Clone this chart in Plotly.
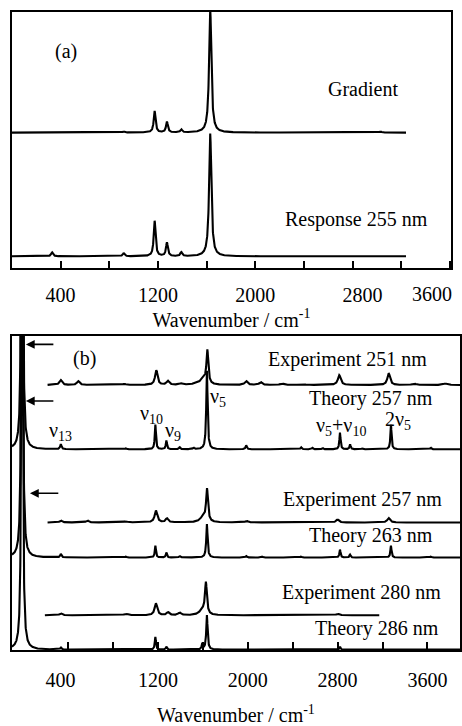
import numpy as np
import plotly.graph_objects as go

# ---------------- data ----------------
# Panel (a): simulated spectra, peak tables (centre cm-1, height, HWHM cm-1)
a_range = [0, 3240]
grad_base = 138
grad_c = [330, 919, 1173, 1274, 1392, 1630, 3030]
grad_h = [0.5, 1, 22, 11, 3, 126, 1]
grad_w = [10, 10, 9, 9, 9, 11, 12]

resp_base = 12
resp_c = [330, 919, 1173, 1274, 1392, 1630]
resp_h = [4, 3, 36, 14, 4, 125]
resp_w = [10, 10, 9, 9, 9, 11]

# Panel (b)
exp251_range = [217, 3890]
exp251_base = 270
exp251_c = [335, 490, 900, 1185, 1288, 1405, 1530, 1600, 1640, 1985, 2115, 2305, 2490, 2815, 3255, 3480, 3760]
exp251_h = [5, 4, 1, 15, 4, 1.5, 1, 6, 34, 4, 3, 1.5, 1, 10, 12, 1.5, 1.5]
exp251_w = [14, 14, 20, 13, 14, 20, 20, 30, 10, 15, 15, 20, 20, 15, 14, 20, 20]

th257_range = [-100, 3890]
th257_base = 204.5
th257_c = [-10, 335, 915, 1177, 1275, 1393, 1517, 1636, 1986, 2475, 2575, 2665, 2821, 2911, 3020, 3275, 3630]
th257_h = [800, 5, 1, 25, 9, 2, 1.5, 80, 4, 2, 1.5, 1.5, 17, 5, 1, 25, 1.5]
th257_w = [5.5, 7, 7, 6, 6, 7, 7, 7, 7, 7, 7, 7, 6, 6, 7, 6, 7]

exp257_range = [217, 3890]
exp257_base = 130
exp257_c = [335, 572, 915, 1182, 1280, 1395, 1600, 1637, 1990, 2800, 3255]
exp257_h = [2, 2, 1, 12, 4, 1, 5, 33, 1.5, 3, 4.5]
exp257_w = [14, 14, 20, 14, 14, 20, 30, 10, 15, 15, 15]

th263_range = [-100, 3890]
th263_base = 94.3
th263_c = [-10, 335, 915, 1177, 1275, 1393, 1636, 1986, 2130, 2475, 2821, 2911, 3275, 3630]
th263_h = [800, 3.5, 1, 12, 5, 1.5, 34, 1.5, 1, 1, 8, 3, 12, 1]
th263_w = [5.5, 7, 7, 6, 6, 7, 7, 7, 7, 7, 6, 6, 6, 7]

exp280_range = [193, 3171]
exp280_base = 35.5
exp280_c = [335, 915, 1182, 1290, 1393, 1595, 1627, 2800]
exp280_h = [2, 1.5, 12, 3, 2.5, 5, 32, 1.5]
exp280_w = [14, 20, 14, 14, 15, 30, 10, 15]

th286_range = [-100, 3890]
th286_base = 0.5
th286_c = [-10, 335, 1177, 1275, 1595, 1636, 2821]
th286_h = [800, 2, 13, 3, 6, 35, 3]
th286_w = [5.5, 7, 6, 6, 6, 7, 6]

tick_labels = ["400", "1200", "2000", "2800", "3600"]
tick_label_vals = [400, 1200, 2000, 2800, 3600]
minor_tick_vals = [800, 1600, 2400, 3200]


def spectrum(xr, base, cs, hs, ws):
    x = np.arange(xr[0], xr[1] + 1, 1.0)
    y = np.full_like(x, base, dtype=float)
    for c, h, w in zip(cs, hs, ws):
        y += h * w * w / ((x - c) ** 2 + w * w)
    return x, y


FONT = "Liberation Serif, Times New Roman, serif"
W, H = 462, 726
line = dict(color="black", width=2.1)

fig = go.Figure()

# panel (a)
for args in [(a_range, grad_base, grad_c, grad_h, grad_w),
             (a_range, resp_base, resp_c, resp_h, resp_w)]:
    x, y = spectrum(*args)
    fig.add_trace(go.Scatter(x=x, y=y, mode="lines", line=line, xaxis="x", yaxis="y",
                             showlegend=False, hoverinfo="skip"))

# panel (b)
for args in [(exp251_range, exp251_base, exp251_c, exp251_h, exp251_w),
             (th257_range, th257_base, th257_c, th257_h, th257_w),
             (exp257_range, exp257_base, exp257_c, exp257_h, exp257_w),
             (th263_range, th263_base, th263_c, th263_h, th263_w),
             (exp280_range, exp280_base, exp280_c, exp280_h, exp280_w),
             (th286_range, th286_base, th286_c, th286_h, th286_w)]:
    x, y = spectrum(*args)
    fig.add_trace(go.Scatter(x=x, y=y, mode="lines", line=line, xaxis="x2", yaxis="y2",
                             showlegend=False, hoverinfo="skip"))

xa_dom = [12 / W, 452 / W]
ya_dom = [1 - 273 / H, 1 - 12 / H]
xb_dom = [12 / W, 461 / W]
yb_dom = [1 - 662 / H, 1 - 342 / H]

# the last label of panel (a) sits on the frame edge; it is drawn as an annotation
# below so that it is not cut by the page border
ticktext_a = ["400", "1200", "2000", "&nbsp;&nbsp;&nbsp;&nbsp;2800", ""]
ticktext_b = ["400&nbsp;&nbsp;&nbsp;", "1200", "2000", "2800", "3600"]

common_x = dict(showline=True, mirror=True, linecolor="black", linewidth=2,
                showgrid=False, zeroline=False, ticks="inside", ticklen=7,
                tickwidth=2, tickcolor="black",
                tickfont=dict(family=FONT, size=20, color="black"),
                tickmode="array", tickvals=tick_label_vals,
                minor=dict(tickmode="array", tickvals=minor_tick_vals, ticks="inside",
                           ticklen=7, tickwidth=2, tickcolor="black"))
common_y = dict(showline=True, mirror=True, linecolor="black", linewidth=2,
                showgrid=False, zeroline=False, showticklabels=False, ticks="")

title_txt = "Wavenumber / cm<sup>-1</sup>"

fig.update_layout(
    width=W, height=H, margin=dict(l=0, r=0, t=0, b=0),
    paper_bgcolor="white", plot_bgcolor="white",
    font=dict(family=FONT, size=20, color="black"),
    xaxis=dict(domain=xa_dom, range=[0, 3610], anchor="y", ticktext=ticktext_a,
               ticklabelstandoff=8,
               title=dict(text=title_txt, standoff=0,
                          font=dict(family=FONT, size=20, color="black")),
               **common_x),
    yaxis=dict(domain=ya_dom, range=[0, 261], anchor="x", **common_y),
    xaxis2=dict(domain=xb_dom, range=[-100, 3890], anchor="y2", ticktext=ticktext_b,
                ticklabelstandoff=11,
                title=dict(text=title_txt, standoff=21,
                           font=dict(family=FONT, size=20, color="black")),
                **{**common_x, "ticklen": 8,
                   "minor": dict(tickmode="array", tickvals=minor_tick_vals, ticks="inside",
                                 ticklen=8, tickwidth=2, tickcolor="black")}),
    yaxis2=dict(domain=yb_dom, range=[0, 320], anchor="x2", **common_y),
)

ann = []


def lab(x, y, t, xr="x", yr="y", size=20):
    ann.append(dict(x=x, y=y, xref=xr, yref=yr, text=t, showarrow=False,
                    font=dict(family=FONT, size=size, color="black"),
                    xanchor="center", yanchor="middle"))


# panel (a) edge tick label
ann.append(dict(x=455 / W, y=1 - 286 / H, xref="paper", yref="paper", text=tick_labels[4],
                showarrow=False, xanchor="right", yanchor="top",
                font=dict(family=FONT, size=20, color="black")))

# panel (a) labels
lab(443, 221, "(a)")
lab(2888, 182, "Gradient")
lab(2834, 49, "Response 255 nm")

# panel (b) labels
lab(548, 297, "(b)", "x2", "y2")
lab(2886, 296, "Experiment 251 nm", "x2", "y2")
lab(3095, 256, "Theory 257 nm", "x2", "y2")
lab(1735, 257, "ν<sub>5</sub>", "x2", "y2")
lab(1140, 240, "ν<sub>10</sub>", "x2", "y2")
lab(1330, 223, "ν<sub>9</sub>", "x2", "y2")
lab(330, 223, "ν<sub>13</sub>", "x2", "y2")
lab(2833, 228, "ν<sub>5</sub>+ν<sub>10</sub>", "x2", "y2")
lab(3335, 234, "2ν<sub>5</sub>", "x2", "y2")
lab(3024, 153, "Experiment 257 nm", "x2", "y2")
lab(3095, 117, "Theory 263 nm", "x2", "y2")
lab(3011, 59, "Experiment 280 nm", "x2", "y2")
lab(3153, 22, "Theory 286 nm", "x2", "y2")

# arrows marking off-scale peaks (head x, tail x, y)
arrow_head_x = [24, 24, 60]
arrow_tail_x = [282, 282, 326]
arrow_y = [311.3, 253.7, 159.7]
for hx, tx, yy in zip(arrow_head_x, arrow_tail_x, arrow_y):
    ann.append(dict(x=hx, y=yy, ax=tx, ay=yy, xref="x2", yref="y2", axref="x2", ayref="y2",
                    text="", showarrow=True, arrowhead=2, arrowsize=1.1, arrowwidth=1.6,
                    arrowcolor="black"))

fig.update_layout(annotations=ann)
fig.write_html("out.html")
